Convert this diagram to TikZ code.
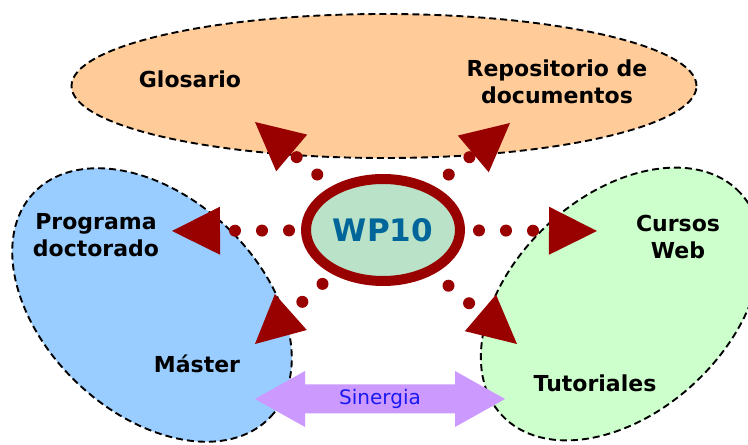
\documentclass[tikz,border=0pt]{standalone}
\usepackage{fontspec}
\setmainfont{DejaVu Sans}
\usetikzlibrary{shapes.geometric,arrows.meta}
\definecolor{orng}{RGB}{255,204,153}
\definecolor{lblue}{RGB}{153,204,255}
\definecolor{lgreen}{RGB}{204,255,204}
\definecolor{dred}{RGB}{153,0,0}
\definecolor{wpfill}{RGB}{185,226,200}
\definecolor{wptext}{RGB}{0,102,153}
\definecolor{lilac}{RGB}{204,153,255}
\definecolor{sinblue}{RGB}{26,26,240}
\begin{document}
\begin{tikzpicture}[x=1pt,y=1pt,
  area/.style={ellipse, draw=black, line width=1.9pt, dash pattern=on 7pt off 4pt, inner sep=0pt},
  lbl/.style={font=\bfseries\fontsize{22}{27}\selectfont, align=center, inner sep=0pt, text=black},
  dotarrow/.style={draw=dred, line width=12pt, line cap=round, dash pattern=on 0pt off 27pt,
    -{Triangle[length=48pt,width=48pt,line width=0pt]}},
  wpnode/.style={ellipse, draw=dred, fill=wpfill, line width=10pt, minimum width=154pt, minimum height=102pt,
    inner sep=0pt, font=\bfseries\fontsize{31}{36}\selectfont, text=wptext},
  sinlbl/.style={font=\fontsize{20}{24}\selectfont, text=sinblue, inner sep=0pt}]
\useasboundingbox (0,0) rectangle (748,445);
\fill[white] (0,0) rectangle (748,445);
% areas
\node[area, fill=orng, minimum width=625pt, minimum height=144pt] (top) at (384,359) {};
\node[area, fill=lblue, minimum width=326pt, minimum height=216pt, rotate=-43.4] (left) at (152,140) {};
\node[area, fill=lgreen, minimum width=326pt, minimum height=216pt, rotate=43] (right) at (621,141) {};
% labels
\node[lbl, anchor=base] (glos) at (190,357) {Glosario};
\node[lbl] (repo) at (557,363) {Repositorio de\\documentos};
\node[lbl] (prog) at (96,210) {Programa\\doctorado};
\node[lbl] (curs) at (678,208) {Cursos\\Web};
\node[lbl, anchor=base] (mast) at (197,72) {Máster};
\node[lbl, anchor=base] (tuto) at (595,53) {Tutoriales};
% arrow tips
\coordinate (tL) at (172,214);
\coordinate (tR) at (597,214);
\coordinate (tUL) at (255,323);
\coordinate (tUR) at (510,322);
\coordinate (tLL) at (255,101);
\coordinate (tLR) at (517,101);
% WP10
\coordinate (wpc) at (383,215);
\draw[dotarrow, shorten <=94pt] (wpc) -- (tL);
\draw[dotarrow, shorten <=96pt] (wpc) -- (tR);
\draw[dotarrow, shorten <=86pt] (wpc) -- (tUL);
\draw[dotarrow, shorten <=86pt] (wpc) -- (tUR);
\draw[dotarrow, shorten <=81pt] (wpc) -- (tLL);
\draw[dotarrow, shorten <=86pt] (wpc) -- (tLR);
\node[wpnode] (wp) at (wpc) {WP10};
% Sinergia
\coordinate (sinc) at (380,46);
\fill[lilac] ([xshift=-125pt]sinc) -- ++(50,28) -- ++(0,-13.5) -- ++(150,0) -- ++(0,13.5)
  -- ++(50,-28) -- ++(-50,-28) -- ++(0,13.5) -- ++(-150,0) -- ++(0,-13.5) -- cycle;
\node[sinlbl] (sin) at (sinc) {Sinergia};
\end{tikzpicture}
\end{document}
